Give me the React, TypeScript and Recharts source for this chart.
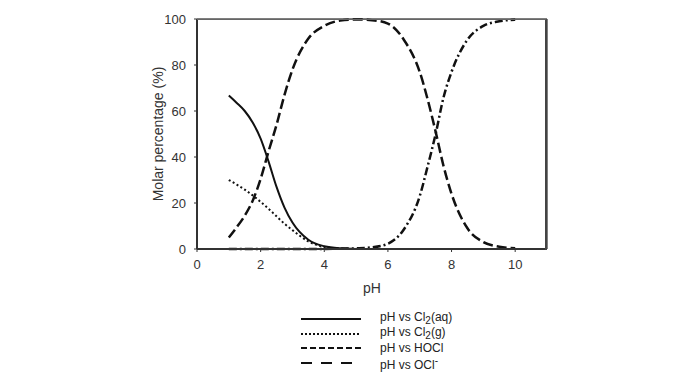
import { LineChart, Line, XAxis, YAxis, CartesianGrid } from 'recharts';

const PH = [1, 1.25, 1.5, 1.75, 2, 2.25, 2.5, 2.75, 3, 3.5, 4, 4.5, 5, 5.5, 6, 6.5, 7, 7.25, 7.5, 7.75, 8, 8.5, 9, 9.5, 10];
const CL2_AQ = [66.7, 63.5, 60, 55, 48, 38, 27, 18, 11.5, 4, 1.2, 0.3, 0.05, null, null, null, null, null, null, null, null, null, null, null, null];
const CL2_G = [30, 28, 25.8, 23.3, 20.5, 17.5, 14.2, 11, 8.2, 3.3, 0.9, 0.2, 0, null, null, null, null, null, null, null, null, null, null, null, null];
const HOCL = [5, 9.5, 14.5, 21, 30.5, 42.5, 54, 67, 78, 91.5, 97, 99.3, 99.8, 99.5, 98, 91, 77, 65, 51, 36, 24, 9, 3, 1, 0.3];
const OCL = [0, 0, 0, 0, 0, 0, 0, 0, 0, 0, 0.05, 0.15, 0.3, 0.7, 2.3, 8.5, 23, 36, 50, 66, 77, 91, 97, 99, 99.7];

const X_TICKS = [0, 2, 4, 6, 8, 10];
const Y_TICKS = [0, 20, 40, 60, 80, 100];

const data = PH.map((ph, i) => ({
  ph,
  cl2aq: CL2_AQ[i],
  cl2g: CL2_G[i],
  hocl: HOCL[i],
  ocl: OCL[i],
}));

const series = [
  { key: 'cl2aq', dash: undefined, width: 2, legendDash: undefined, label: <>pH vs Cl<sub>2</sub>(aq)</> },
  { key: 'cl2g', dash: '2 2.5', width: 2, legendDash: '2 2', label: <>pH vs Cl<sub>2</sub>(g)</> },
  { key: 'hocl', dash: '10 4', width: 2.5, legendDash: '6 3', label: <>pH vs HOCl</> },
  { key: 'ocl', dash: '8 3 2 3', width: 2.5, legendDash: '11 9', label: <>pH vs OCl<sup>-</sup></> },
];

const axisText = { fontSize: 13, fill: '#333', fontFamily: 'Liberation Sans, Arial, sans-serif' };

function ChartLegend() {
  return (
    <div
      style={{
        position: 'absolute',
        left: 300,
        top: 312,
        fontFamily: 'Liberation Sans, Arial, sans-serif',
        fontSize: 12,
        color: '#222',
      }}
    >
      {series.map((s) => (
        <div key={s.key} style={{ display: 'flex', alignItems: 'center', height: 14.5 }}>
          <svg width={62} height={10} style={{ marginRight: 18 }}>
            <line x1={1} y1={5} x2={61} y2={5} stroke="#111" strokeWidth={2} strokeDasharray={s.legendDash} />
          </svg>
          <span style={{ lineHeight: '14px' }}>{s.label}</span>
        </div>
      ))}
    </div>
  );
}

export default function App() {
  return (
    <div style={{ position: 'absolute', left: 0, top: 0, width: 676, height: 373, background: '#fff' }}>
      <LineChart width={676} height={373} data={data} margin={{ top: 19, right: 129, left: 119, bottom: 74 }}>
        <CartesianGrid horizontalValues={[100]} verticalValues={[11]} stroke="#555" strokeWidth={1.5} />
        <XAxis
          dataKey="ph"
          type="number"
          domain={[0, 11]}
          ticks={X_TICKS}
          tick={axisText}
          tickSize={3}
          tickMargin={8}
          axisLine={{ stroke: '#333', strokeWidth: 2 }}
          tickLine={{ stroke: '#333' }}
          height={50}
          label={{ value: 'pH', position: 'insideBottom', offset: 6, style: { ...axisText, fontSize: 14 } }}
        />
        <YAxis
          type="number"
          domain={[0, 100]}
          ticks={Y_TICKS}
          tick={axisText}
          tickSize={3}
          tickMargin={8}
          width={78}
          axisLine={{ stroke: '#333', strokeWidth: 2 }}
          tickLine={{ stroke: '#333' }}
          label={{ value: 'Molar percentage (%)', angle: -90, position: 'center', style: { ...axisText, fontSize: 14, textAnchor: 'middle' } }}
        />
        {series.map((s) => (
          <Line
            key={s.key}
            dataKey={s.key}
            type="monotone"
            stroke="#111"
            strokeWidth={s.width}
            strokeDasharray={s.dash}
            dot={false}
            connectNulls={false}
            isAnimationActive={false}
          />
        ))}
      </LineChart>
      <div
        style={{
          position: 'absolute',
          left: 197,
          top: 19,
          width: 350,
          height: 231,
          boxSizing: 'border-box',
          borderTop: '1.5px solid #666',
          borderRight: '2px solid #444',
          pointerEvents: 'none',
        }}
      />
      <ChartLegend />
    </div>
  );
}
